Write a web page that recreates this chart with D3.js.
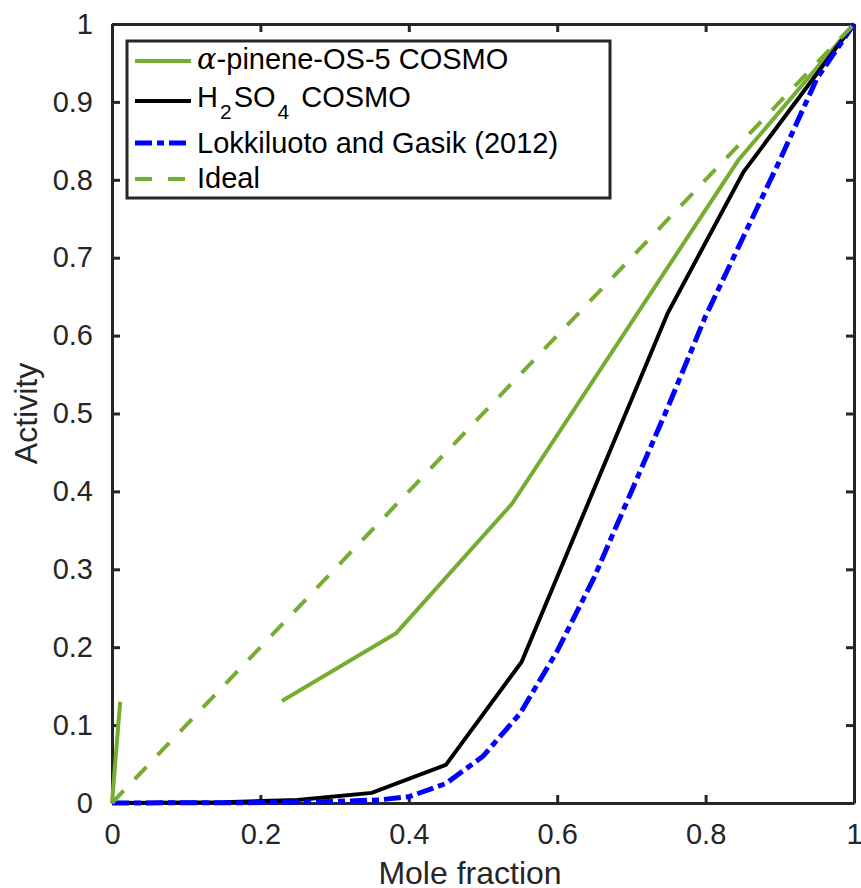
<!DOCTYPE html>
<html>
<head>
<meta charset="utf-8">
<script src="https://cdn.jsdelivr.net/npm/d3@7"></script>
<style>
  html, body { margin: 0; padding: 0; background: #fff; }
  svg { display: block; font-family: "Liberation Sans", Arial, sans-serif; }
</style>
</head>
<body>
<div id="chart"></div>
<script>
// axis ticks
const xTicks = [0, 0.2, 0.4, 0.6, 0.8, 1];
const xTickLabels = ['0', '0.2', '0.4', '0.6', '0.8', '1'];
const yTicks = [0, 0.1, 0.2, 0.3, 0.4, 0.5, 0.6, 0.7, 0.8, 0.9, 1];
const yTickLabels = ['0', '0.1', '0.2', '0.3', '0.4', '0.5', '0.6', '0.7', '0.8', '0.9', '1'];

// alpha-pinene-OS-5 COSMO (NaN = gap in the curve)
const pineneX = [0, 0.011, NaN, 0.229, 0.383, 0.539, 0.844, 1];
const pineneY = [0, 0.13, NaN, 0.131, 0.218, 0.384, 0.825, 1];

// H2SO4 COSMO
const acidX = [0, 0.15, 0.25, 0.35, 0.45, 0.552, 0.749, 0.851, 1];
const acidY = [0, 0.001, 0.004, 0.013, 0.049, 0.181, 0.629, 0.81, 1];

// Lokkiluoto and Gasik (2012)
const lokX = [0, 0.2, 0.3, 0.36, 0.4, 0.45, 0.5, 0.55, 0.6, 0.65, 0.7, 0.75, 0.8, 0.85, 0.9, 0.95, 1];
const lokY = [0, 0.0005, 0.002, 0.004, 0.008, 0.025, 0.06, 0.115, 0.195, 0.29, 0.4, 0.51, 0.625, 0.725, 0.825, 0.93, 1];

// Ideal
const idealX = [0, 1];
const idealY = [0, 1];

const width = 861;
const height = 888;
const axisColor = '#262626';
const green = '#77ac30';

const x = d3.scaleLinear().domain([0, 1]).range([112, 854]);
const y = d3.scaleLinear().domain([0, 1]).range([803, 24]);

const svg = d3.select('#chart').append('svg')
    .attr('width', width)
    .attr('height', height);

// Axes (box with inward ticks)
function styleAxis(g) {
    g.selectAll('.domain').attr('stroke', axisColor).attr('stroke-width', 3);
    g.selectAll('.tick line').attr('stroke', axisColor).attr('stroke-width', 3);
    g.selectAll('.tick text').attr('fill', axisColor).style('font-size', '29px')
        .style('font-family', '"Liberation Sans", Arial, sans-serif');
}

svg.append('g')
    .attr('transform', `translate(0,${y(0)})`)
    .call(d3.axisBottom(x).tickValues(xTicks).tickSize(-8).tickSizeOuter(0)
        .tickPadding(20).tickFormat((d, i) => xTickLabels[i]))
    .call(styleAxis);

svg.append('g')
    .attr('transform', `translate(${x(0)},0)`)
    .call(d3.axisLeft(y).tickValues(yTicks).tickSize(-8).tickSizeOuter(0)
        .tickPadding(19).tickFormat((d, i) => yTickLabels[i]))
    .call(styleAxis);

svg.append('g')
    .attr('transform', `translate(0,${y(1)})`)
    .call(d3.axisTop(x).tickValues(xTicks).tickSize(-8).tickSizeOuter(0).tickFormat(''))
    .call(styleAxis);

svg.append('g')
    .attr('transform', `translate(${x(1)},0)`)
    .call(d3.axisRight(y).tickValues(yTicks).tickSize(-8).tickSizeOuter(0).tickFormat(''))
    .call(styleAxis);

// Axis labels
svg.append('text')
    .attr('x', 470)
    .attr('y', 884)
    .attr('text-anchor', 'middle')
    .style('font-size', '32px')
    .style('fill', axisColor)
    .text('Mole fraction');

svg.append('text')
    .attr('transform', `translate(37,${(y(0) + y(1)) / 2}) rotate(-90)`)
    .attr('text-anchor', 'middle')
    .style('font-size', '32px')
    .style('fill', axisColor)
    .text('Activity');

// Series
const series = [
    { name: 'pinene', xs: pineneX, ys: pineneY, color: green, width: 4, dash: null },
    { name: 'acid', xs: acidX, ys: acidY, color: '#000000', width: 4, dash: null },
    { name: 'lok', xs: lokX, ys: lokY, color: '#0000ff', width: 5, dash: '17,5,7,5' },
    { name: 'ideal', xs: idealX, ys: idealY, color: green, width: 4, dash: '17,16' }
];

const line = d3.line()
    .defined(d => !isNaN(d[0]) && !isNaN(d[1]))
    .x(d => x(d[0]))
    .y(d => y(d[1]));

series.forEach(s => {
    svg.append('path')
        .datum(s.xs.map((v, i) => [v, s.ys[i]]))
        .attr('fill', 'none')
        .attr('stroke', s.color)
        .attr('stroke-width', s.width)
        .attr('stroke-dasharray', s.dash)
        .attr('d', line);
});

// Legend
const legend = svg.append('g');

legend.append('rect')
    .attr('x', 127)
    .attr('y', 41)
    .attr('width', 483)
    .attr('height', 157)
    .attr('fill', '#fff')
    .attr('stroke', axisColor)
    .attr('stroke-width', 3);

const rows = [
    { s: series[0], ly: 61, ty: 69 },
    { s: series[1], ly: 101, ty: 107 },
    { s: series[2], ly: 143, ty: 153 },
    { s: series[3], ly: 179, ty: 188 }
];

rows.forEach(r => {
    legend.append('line')
        .attr('x1', 135).attr('x2', 191)
        .attr('y1', r.ly).attr('y2', r.ly)
        .attr('stroke', r.s.color)
        .attr('stroke-width', r.s.width)
        .attr('stroke-dasharray', r.s.dash);
});

const labelText = (ty) => legend.append('text')
    .attr('x', 197)
    .attr('y', ty)
    .style('font-size', '29px')
    .style('fill', '#000');

const t1 = labelText(rows[0].ty);
t1.append('tspan')
    .style('font-family', '"DejaVu Serif", "Liberation Serif", serif')
    .style('font-style', 'italic')
    .text('α');
t1.append('tspan').text('-pinene-OS-5 COSMO');

const t2 = labelText(rows[1].ty);
t2.append('tspan').text('H');
t2.append('tspan').attr('dy', 12).attr('dx', 2).style('font-size', '21px').text('2');
t2.append('tspan').attr('dy', -12).attr('dx', 2).text('SO');
t2.append('tspan').attr('dy', 12).attr('dx', 2).style('font-size', '21px').text('4');
t2.append('tspan').attr('dy', -12).attr('dx', 12).text('COSMO');

labelText(rows[2].ty).text('Lokkiluoto and Gasik (2012)');
labelText(rows[3].ty).text('Ideal');
</script>
</body>
</html>
